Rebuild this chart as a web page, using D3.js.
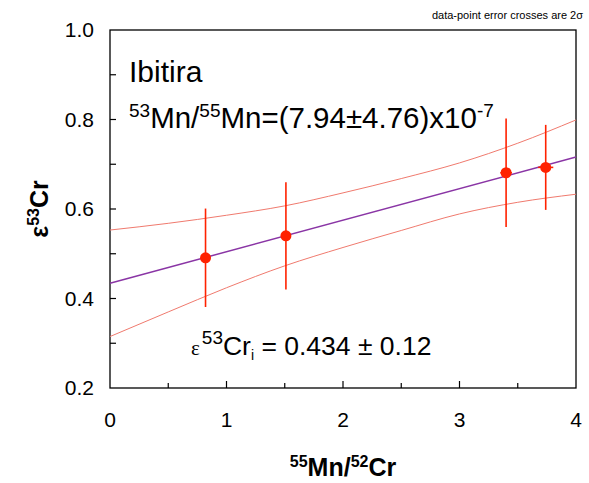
<!DOCTYPE html>
<html>
<head>
<meta charset="utf-8">
<script src="https://cdn.jsdelivr.net/npm/d3@7"></script>
<style>
  body { margin: 0; background: #fff; }
  text { font-family: "Liberation Sans", Arial, sans-serif; fill: #000; }
</style>
</head>
<body>
<div id="chart"></div>
<script>
// data
const pointX = [0.82, 1.51, 3.40, 3.74];
const pointY = [0.491, 0.540, 0.681, 0.693];
const errY = [0.110, 0.120, 0.121, 0.095];
const errX = [0.04, 0.04, 0.05, 0.065];

const fitX = [0, 4];
const fitY = [0.434, 0.716];

const bandX = [0, 0.5, 1, 1.5, 2, 2.5, 3, 3.5, 4];
const bandUpper = [0.553, 0.568, 0.586, 0.607, 0.636, 0.668, 0.703, 0.747, 0.799];
const bandLower = [0.315, 0.370, 0.424, 0.473, 0.514, 0.552, 0.589, 0.615, 0.633];

const xTicks = [0, 1, 2, 3, 4];
const xMinorTicks = [0.5, 1.5, 2.5, 3.5];
const yTicks = [0.2, 0.4, 0.6, 0.8, 1.0];
const yAllTicks = [0.3, 0.4, 0.5, 0.6, 0.7, 0.8, 0.9];

const width = 589;
const height = 483;
const margin = { top: 30, right: 13, bottom: 95, left: 110 };

const svg = d3.select("#chart").append("svg")
    .attr("width", width)
    .attr("height", height);

const x = d3.scaleLinear()
    .domain([0, 4])
    .range([margin.left, width - margin.right]);

const y = d3.scaleLinear()
    .domain([0.2, 1.0])
    .range([height - margin.bottom, margin.top]);

const red = "#ff2200";
const bandColor = "#f07a6e";
const purple = "#8a35a5";

// frame
svg.append("rect")
    .attr("x", x(0))
    .attr("y", y(1.0))
    .attr("width", x(4) - x(0))
    .attr("height", y(0.2) - y(1.0))
    .attr("fill", "none")
    .attr("stroke", "#000")
    .attr("stroke-width", 1.3);

// ticks, pointing inward
svg.append("g")
    .selectAll("line")
    .data(yAllTicks)
    .enter()
    .append("line")
    .attr("x1", x(0))
    .attr("x2", x(0) + 6)
    .attr("y1", d => y(d))
    .attr("y2", d => y(d))
    .attr("stroke", "#000")
    .attr("stroke-width", 1.2);

svg.append("g")
    .selectAll("line")
    .data(xTicks.slice(1, -1))
    .enter()
    .append("line")
    .attr("x1", d => x(d))
    .attr("x2", d => x(d))
    .attr("y1", y(0.2))
    .attr("y2", y(0.2) - 7)
    .attr("stroke", "#000")
    .attr("stroke-width", 1.2);

svg.append("g")
    .selectAll("line")
    .data(xMinorTicks)
    .enter()
    .append("line")
    .attr("x1", d => x(d))
    .attr("x2", d => x(d))
    .attr("y1", y(0.2))
    .attr("y2", y(0.2) - 5)
    .attr("stroke", "#000")
    .attr("stroke-width", 1.2);

// tick labels
svg.append("g")
    .selectAll("text")
    .data(yTicks)
    .enter()
    .append("text")
    .attr("x", x(0) - 16)
    .attr("y", d => y(d) + 7)
    .attr("text-anchor", "end")
    .style("font-size", "21px")
    .text(d => d.toFixed(1));

svg.append("g")
    .selectAll("text")
    .data(xTicks)
    .enter()
    .append("text")
    .attr("x", d => x(d))
    .attr("y", y(0.2) + 39)
    .attr("text-anchor", "middle")
    .style("font-size", "21px")
    .text(d => d);

// error envelope
const line = d3.line()
    .x(d => x(d[0]))
    .y(d => y(d[1]))
    .curve(d3.curveMonotoneX);

[bandUpper, bandLower].forEach(arr => {
    svg.append("path")
        .datum(bandX.map((d, i) => [d, arr[i]]))
        .attr("d", line)
        .attr("fill", "none")
        .attr("stroke", bandColor)
        .attr("stroke-width", 1);
});

// regression line
svg.append("path")
    .datum(fitX.map((d, i) => [d, fitY[i]]))
    .attr("d", line)
    .attr("fill", "none")
    .attr("stroke", purple)
    .attr("stroke-width", 1.5);

// error crosses
const pts = pointX.map((d, i) => ({ x: d, y: pointY[i], ey: errY[i], ex: errX[i] }));

svg.append("g")
    .selectAll("line")
    .data(pts)
    .enter()
    .append("line")
    .attr("x1", d => x(d.x))
    .attr("x2", d => x(d.x))
    .attr("y1", d => y(d.y - d.ey))
    .attr("y2", d => y(d.y + d.ey))
    .attr("stroke", red)
    .attr("stroke-width", 1.6);

svg.append("g")
    .selectAll("line")
    .data(pts)
    .enter()
    .append("line")
    .attr("x1", d => x(d.x - d.ex))
    .attr("x2", d => x(d.x + d.ex))
    .attr("y1", d => y(d.y))
    .attr("y2", d => y(d.y))
    .attr("stroke", red)
    .attr("stroke-width", 1.6);

svg.append("g")
    .selectAll("circle")
    .data(pts)
    .enter()
    .append("circle")
    .attr("cx", d => x(d.x))
    .attr("cy", d => y(d.y))
    .attr("r", 5.5)
    .attr("fill", red);

// texts
svg.append("text")
    .attr("x", 583)
    .attr("y", 19)
    .attr("text-anchor", "end")
    .style("font-size", "11px")
    .text("data-point error crosses are 2σ");

svg.append("text")
    .attr("x", 129)
    .attr("y", 82)
    .style("font-size", "30px")
    .text("Ibitira");

const ratio = svg.append("text")
    .attr("x", 129)
    .attr("y", 128)
    .style("font-size", "29.5px");
ratio.append("tspan").attr("dy", -11).style("font-size", "19px").text("53");
ratio.append("tspan").attr("dy", 11).text("Mn/");
ratio.append("tspan").attr("dy", -11).style("font-size", "19px").text("55");
ratio.append("tspan").attr("dy", 11).text("Mn=(7.94±4.76)x10");
ratio.append("tspan").attr("dy", -11).style("font-size", "19px").text("-7");

const initial = svg.append("text")
    .attr("x", 191)
    .attr("y", 355)
    .style("font-size", "26.5px");
initial.append("tspan")
    .style("font-family", "'Liberation Serif', 'Times New Roman', serif")
    .style("font-size", "21px")
    .text("ε");
initial.append("tspan").attr("dy", -11).attr("dx", 2).style("font-size", "19px").text("53");
initial.append("tspan").attr("dy", 11).text("Cr");
initial.append("tspan").attr("dy", 5).style("font-size", "14px").text("i");
initial.append("tspan").attr("dy", -5).text(" = 0.434 ± 0.12");

// axis titles
const xTitle = svg.append("text")
    .attr("x", x(2))
    .attr("y", 476)
    .attr("text-anchor", "middle")
    .style("font-size", "25px")
    .style("font-weight", "bold");
xTitle.append("tspan").attr("dy", -9).style("font-size", "16px").text("55");
xTitle.append("tspan").attr("dy", 9).text("Mn/");
xTitle.append("tspan").attr("dy", -9).style("font-size", "16px").text("52");
xTitle.append("tspan").attr("dy", 9).text("Cr");

const yTitle = svg.append("text")
    .attr("transform", `translate(48,${y(0.6)}) rotate(-90)`)
    .attr("text-anchor", "middle")
    .style("font-size", "25px")
    .style("font-weight", "bold");
yTitle.append("tspan").text("ε");
yTitle.append("tspan").attr("dy", -9).style("font-size", "16px").text("53");
yTitle.append("tspan").attr("dy", 9).text("Cr");
</script>
</body>
</html>
